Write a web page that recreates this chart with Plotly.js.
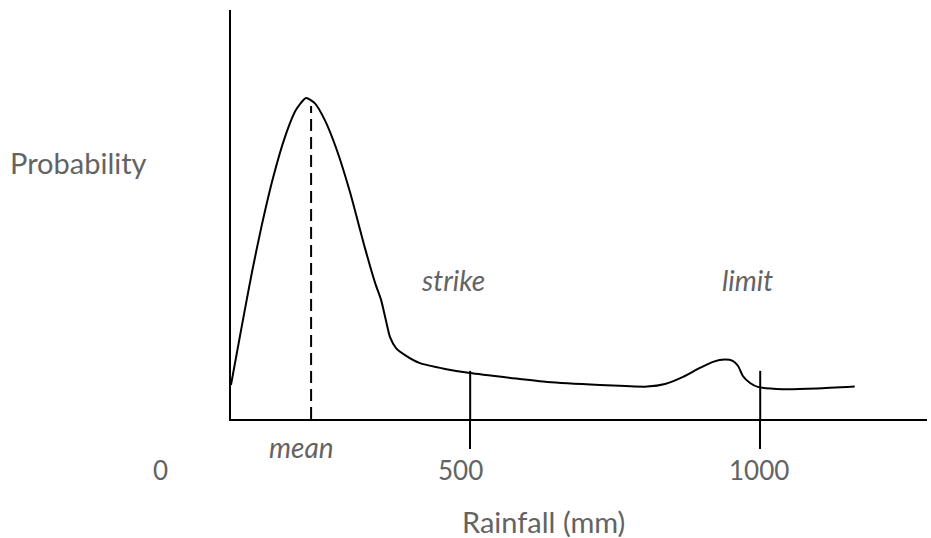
<!DOCTYPE html>
<html>
<head>
<meta charset="utf-8">
<script src="https://cdn.plot.ly/plotly-3.0.1.min.js"></script>
<style>html,body{margin:0;padding:0;background:#fff;}#chart{width:931px;height:538px;}</style>
</head>
<body>
<div id="chart"></div>
<script>
// Rainfall (mm) and relative probability
const rainfall = [117, 135.5, 152.2, 168.9, 187.3, 207.4, 225.8, 242.5, 257, 274, 294, 316, 341, 358, 368, 376, 383, 393, 408, 433, 475, 517, 584, 646, 734, 813, 843, 873, 901, 923, 943, 956, 965, 973, 985, 998, 1040, 1097, 1160];
const probability = [10.6, 29.3, 45.8, 60.7, 75.1, 87.9, 96.3, 100, 98.4, 93.1, 83.8, 70.7, 53.3, 42.4, 37.1, 30.8, 25.5, 22.1, 19.9, 17.4, 15.6, 14.3, 12.8, 11.5, 10.6, 10.1, 10.9, 13.1, 15.9, 17.8, 18.5, 18.1, 16.5, 13.4, 11.2, 10.0, 9.3, 9.5, 10.1];

const meanRain = 251;
const meanTop = 97.5;
const strikeRain = 517;
const limitRain = 1002;
const markerTop = 15;

const tickValues = [0, 500, 1000];
const tickLabels = ['0', '500', '1000'];

const xRange = [117.06, 1280.9];
const yRange = [0, 127.4];

const textFont = {family: 'Lato, "Open Sans", sans-serif', size: 29, color: '#636363'};
const tickFont = Object.assign({}, textFont, {size: 26});
const italicFont = Object.assign({}, textFont, {size: 28, style: 'italic'});

const traces = [
  {x: rainfall, y: probability, mode: 'lines', line: {color: '#000', width: 2, shape: 'spline', smoothing: 0.6}, hoverinfo: 'skip'},
  {x: [meanRain, meanRain], y: [0, meanTop], mode: 'lines', line: {color: '#000', width: 2, dash: '12px,6px'}, hoverinfo: 'skip'},
  {x: [strikeRain, strikeRain], y: [0, markerTop], mode: 'lines', line: {color: '#000', width: 2}, hoverinfo: 'skip'},
  {x: [limitRain, limitRain], y: [0, markerTop], mode: 'lines', line: {color: '#000', width: 2}, hoverinfo: 'skip'}
];

function toPaperX(v) { return (v - xRange[0]) / (xRange[1] - xRange[0]); }

const annotations = tickValues.map((v, i) => ({
  xref: 'paper', yref: 'paper', x: toPaperX(v), y: -0.1247,
  text: tickLabels[i], showarrow: false, xanchor: 'center', yanchor: 'middle', font: tickFont
}));
annotations.push(
  {xref: 'paper', yref: 'paper', x: 0.102, y: -0.0685, text: 'mean', showarrow: false, xanchor: 'center', yanchor: 'middle', font: italicFont},
  {xref: 'paper', yref: 'paper', x: 0.319, y: 0.34, text: 'strike', showarrow: false, xanchor: 'center', yanchor: 'middle', font: italicFont},
  {xref: 'paper', yref: 'paper', x: 0.7414, y: 0.34, text: 'limit', showarrow: false, xanchor: 'center', yanchor: 'middle', font: italicFont},
  {xref: 'paper', yref: 'paper', x: -0.2198, y: 0.626, text: 'Probability', showarrow: false, xanchor: 'center', yanchor: 'middle', font: textFont},
  {xref: 'paper', yref: 'paper', x: 0.4483, y: -0.2518, text: 'Rainfall (mm)', showarrow: false, xanchor: 'center', yanchor: 'middle', font: textFont}
);

const layout = {
  width: 931, height: 538, autosize: false,
  margin: {l: 231, r: 4, t: 10, b: 119, pad: 0},
  paper_bgcolor: '#fff', plot_bgcolor: '#fff',
  showlegend: false,
  xaxis: {range: xRange, showline: true, linecolor: '#000', linewidth: 2, showgrid: false, zeroline: false,
          tickvals: [strikeRain, limitRain], ticktext: ['', ''], ticks: 'outside', ticklen: 28, tickwidth: 2, tickcolor: '#000', fixedrange: true},
  yaxis: {range: yRange, showline: true, linecolor: '#000', linewidth: 2, showgrid: false, zeroline: false,
          showticklabels: false, ticks: '', fixedrange: true},
  annotations: annotations
};

Plotly.newPlot('chart', traces, layout, {displayModeBar: false, staticPlot: true});
</script>
</body>
</html>
